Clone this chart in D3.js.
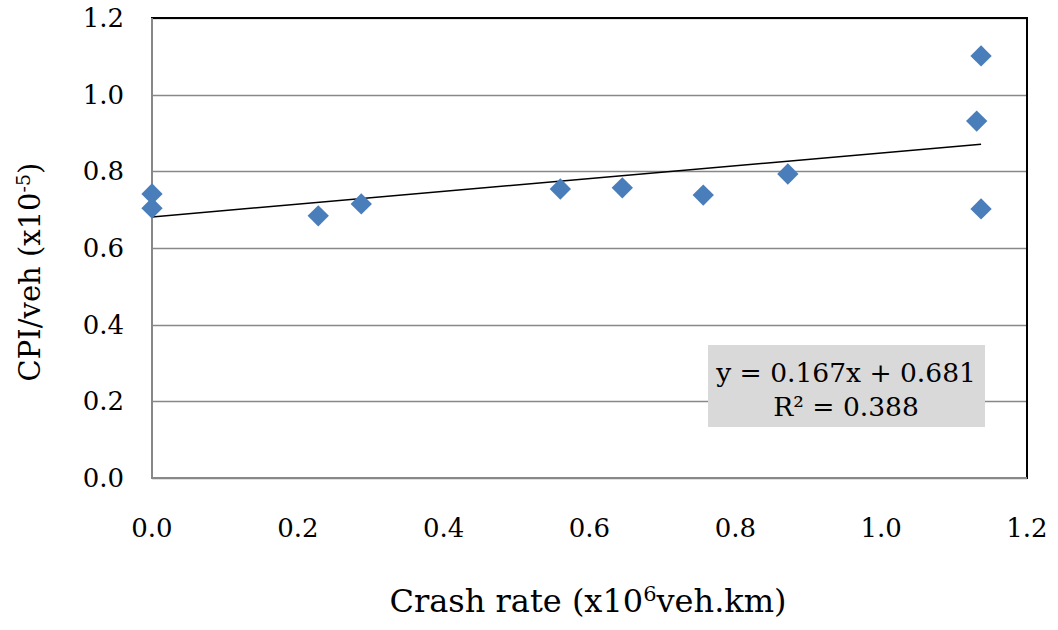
<!DOCTYPE html>
<html>
<head>
<meta charset="utf-8">
<script src="https://cdn.jsdelivr.net/npm/d3@7"></script>
<style>
  body { margin: 0; background: #fff; }
  svg text { font-family: "DejaVu Serif", serif; fill: #000; }
</style>
</head>
<body>
<svg id="chart"></svg>
<script>
// DATA
const crashRate = [0.0, 0.0, 0.228, 0.287, 0.56, 0.645, 0.756, 0.872, 1.131, 1.137, 1.137];
const cpiPerVeh = [0.741, 0.704, 0.684, 0.715, 0.754, 0.757, 0.738, 0.793, 0.931, 1.101, 0.702];
const xTicks = [0.0, 0.2, 0.4, 0.6, 0.8, 1.0, 1.2];
const yTicks = [0.0, 0.2, 0.4, 0.6, 0.8, 1.0, 1.2];
const slope = 0.167;
const intercept = 0.681;
const eqLines = ["y = 0.167x + 0.681", "R² = 0.388"];

const width = 1058;
const height = 630;
const margin = { top: 18, right: 31, bottom: 152, left: 152 };

const svg = d3.select("#chart").attr("width", width).attr("height", height);

const x = d3.scaleLinear().domain([0, 1.2]).range([margin.left, width - margin.right]);
const y = d3.scaleLinear().domain([0, 1.2]).range([height - margin.bottom, margin.top]);

// GRID
svg.append("g")
  .selectAll("line")
  .data(yTicks)
  .enter()
  .append("line")
  .attr("x1", x(0))
  .attr("x2", x(1.2))
  .attr("y1", (d) => Math.round(y(d)) + 0.5)
  .attr("y2", (d) => Math.round(y(d)) + 0.5)
  .attr("stroke", "#888")
  .attr("stroke-width", 1.5);

// plot border (top/right black)
svg.append("rect")
  .attr("x", x(0))
  .attr("y", y(1.2))
  .attr("width", x(1.2) - x(0))
  .attr("height", y(0) - y(1.2))
  .attr("fill", "none")
  .attr("stroke", "#000")
  .attr("stroke-width", 2);

// axes lines (gray)
svg.append("line")
  .attr("x1", x(0)).attr("x2", x(0))
  .attr("y1", y(1.2)).attr("y2", y(0) + 1)
  .attr("stroke", "#888").attr("stroke-width", 2);
svg.append("line")
  .attr("x1", x(0) - 1).attr("x2", x(1.2))
  .attr("y1", y(0)).attr("y2", y(0))
  .attr("stroke", "#888").attr("stroke-width", 2);

// tick labels
svg.append("g")
  .selectAll("text")
  .data(yTicks)
  .enter()
  .append("text")
  .attr("x", x(0) - 28)
  .attr("y", (d) => y(d))
  .attr("dy", "0.35em")
  .attr("text-anchor", "end")
  .style("font-size", "26px")
  .text((d) => d.toFixed(1));

svg.append("g")
  .selectAll("text")
  .data(xTicks)
  .enter()
  .append("text")
  .attr("x", (d) => x(d))
  .attr("y", 537)
  .attr("text-anchor", "middle")
  .style("font-size", "26px")
  .text((d) => d.toFixed(1));

// TREND LINE
const xMax = d3.max(crashRate);
svg.append("line")
  .attr("x1", x(0))
  .attr("y1", y(intercept))
  .attr("x2", x(xMax))
  .attr("y2", y(intercept + slope * xMax))
  .attr("stroke", "#000")
  .attr("stroke-width", 1.5);

// POINTS
const pts = crashRate.map((d, i) => [d, cpiPerVeh[i]]);
svg.append("g")
  .selectAll("path")
  .data(pts)
  .enter()
  .append("path")
  .attr("d", d3.symbol().type(d3.symbolDiamond2).size(290))
  .attr("transform", (d) => `translate(${x(d[0])},${y(d[1])})`)
  .attr("fill", "#4a7ebb");

// EQUATION BOX
const box = svg.append("g");
box.append("rect")
  .attr("x", 708).attr("y", 345)
  .attr("width", 277).attr("height", 82)
  .attr("fill", "#d9d9d9");
box.selectAll("text")
  .data(eqLines)
  .enter()
  .append("text")
  .attr("x", 846)
  .attr("y", (d, i) => 382 + i * 34)
  .attr("text-anchor", "middle")
  .style("font-size", "26.5px")
  .text((d) => d);

// AXIS TITLES
const xt = svg.append("text")
  .attr("x", 588)
  .attr("y", 612)
  .attr("text-anchor", "middle")
  .style("font-size", "32px");
xt.append("tspan").text("Crash rate (x10");
xt.append("tspan").attr("dy", "-11").style("font-size", "21px").text("6");
xt.append("tspan").attr("dy", "11").text("veh.km)");

const yt = svg.append("text")
  .attr("transform", `translate(40, 272) rotate(-90)`)
  .attr("text-anchor", "middle")
  .style("font-size", "29px");
yt.append("tspan").text("CPI/veh (x10");
yt.append("tspan").attr("dy", "-10").style("font-size", "19px").text("-5");
yt.append("tspan").attr("dy", "10").text(")");
</script>
</body>
</html>
